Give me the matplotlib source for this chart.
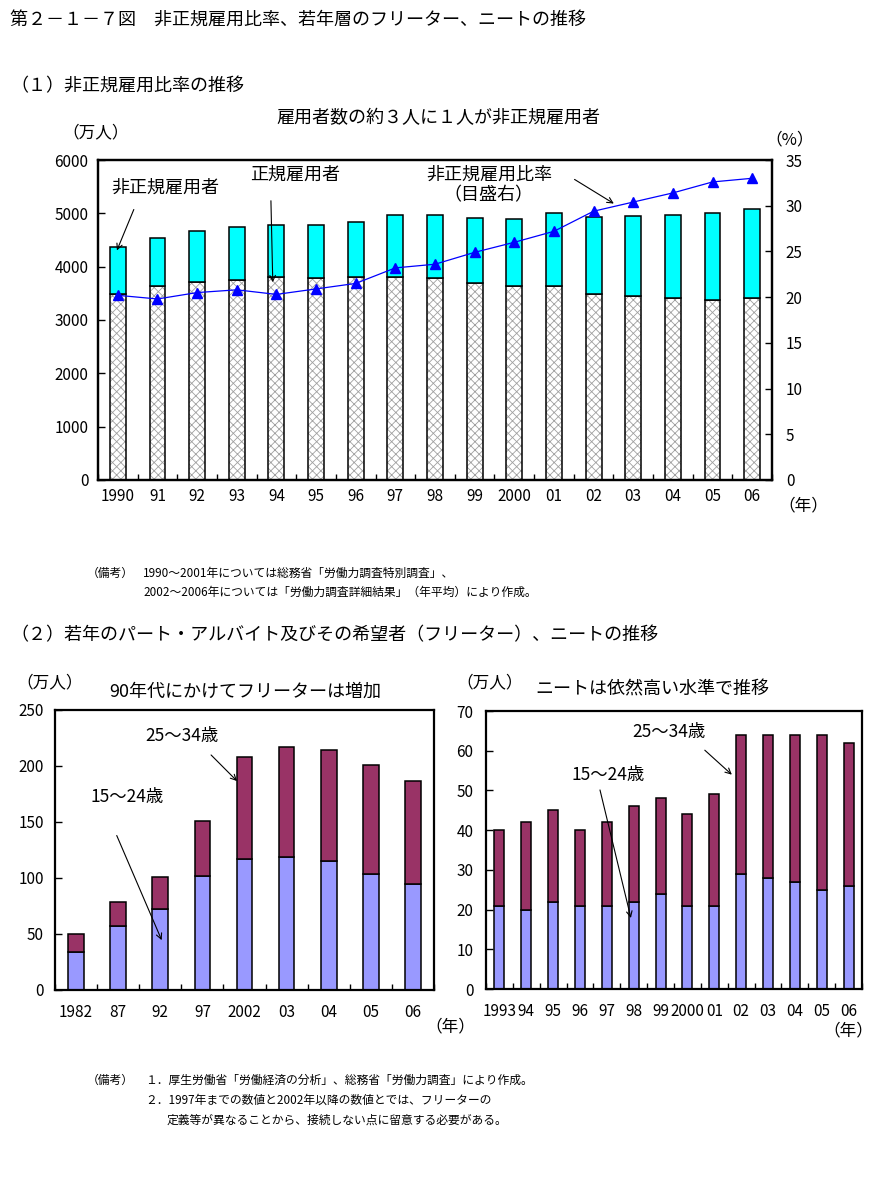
import numpy as np
import matplotlib
matplotlib.use('Agg')
import matplotlib.pyplot as plt

plt.rcParams['font.family'] = ['Noto Sans CJK JP', 'DejaVu Sans']
plt.rcParams['hatch.linewidth'] = 0.6

# (1) 非正規雇用比率
years1 = ['1990', '91', '92', '93', '94', '95', '96', '97', '98', '99',
          '2000', '01', '02', '03', '04', '05', '06']
regular = [3488, 3639, 3705, 3756, 3805, 3779, 3800, 3812, 3794, 3688,
           3630, 3640, 3489, 3444, 3410, 3374, 3411]
non_regular = [881, 897, 958, 986, 971, 1001, 1043, 1152, 1173, 1225,
               1273, 1360, 1451, 1504, 1564, 1633, 1677]
ratio = [20.2, 19.8, 20.5, 20.8, 20.3, 20.9, 21.5, 23.2, 23.6, 24.9,
         26.0, 27.2, 29.4, 30.4, 31.4, 32.6, 33.0]

# (2) フリーター
years2 = ['1982', '87', '92', '97', '2002', '03', '04', '05', '06']
freeter_young = [34, 57, 72, 102, 117, 119, 115, 104, 95]
freeter_old = [16, 22, 29, 49, 91, 98, 99, 97, 92]

# (2) ニート
years3 = ['1993', '94', '95', '96', '97', '98', '99', '2000', '01',
          '02', '03', '04', '05', '06']
neet_young = [21, 20, 22, 21, 21, 22, 24, 21, 21, 29, 28, 27, 25, 26]
neet_old = [19, 22, 23, 19, 21, 24, 24, 23, 28, 35, 36, 37, 39, 36]

W, H = 894, 1180
fig = plt.figure(figsize=(W / 100, H / 100), dpi=100)


def rect(l, t, r, b):
    return [l / W, 1 - b / H, (r - l) / W, (b - t) / H]


def ftext(x, y, s, size=9, ha='left', **kw):
    fig.text(x / W, 1 - y / H, s, fontsize=size, ha=ha, va='center', **kw)


def style_axis(ax, n, labels, xpad, ypad):
    ax.set_xlim(-0.5, n - 0.5)
    ax.set_xticks(np.arange(n))
    ax.set_xticklabels(labels)
    ax.set_xticks(np.arange(-0.5, n), minor=True)
    ax.tick_params(axis='x', which='major', length=0, pad=xpad, labelsize=11)
    ax.tick_params(axis='x', which='minor', direction='in', length=4, width=1)
    ax.tick_params(axis='y', direction='in', length=5, width=1, pad=ypad, labelsize=11)
    for s in ax.spines.values():
        s.set_linewidth(1.6)


def arrow(ax, start, tip):
    ax.annotate('', xy=tip, xytext=start,
                arrowprops=dict(arrowstyle='->', color='black', lw=0.8))


# 見出し
ftext(10, 20, '第２－１－７図　非正規雇用比率、若年層のフリーター、ニートの推移', 13)
ftext(10, 86, '（１）非正規雇用比率の推移', 13)

# ---- (1) ----
ax1 = fig.add_axes(rect(98, 160, 772, 480))
x1 = np.arange(len(years1))
ax1.bar(x1, regular, width=0.4, color='white', edgecolor='#a0a0a0',
        hatch='xxxx', linewidth=0)
ax1.bar(x1, regular, width=0.4, fill=False, edgecolor='black', linewidth=1.1)
ax1.bar(x1, non_regular, bottom=regular, width=0.4, color='#00FFFF',
        edgecolor='black', linewidth=1.1)
ax1.set_ylim(0, 6000)
ax1.set_yticks(range(0, 6001, 1000))
style_axis(ax1, len(years1), years1, 6, 7)

ax1b = ax1.twinx()
ax1b.plot(x1, ratio, color='#0000FF', lw=0.9, marker='^', markersize=7)
ax1b.set_ylim(0, 35)
ax1b.set_yticks(range(0, 36, 5))
ax1b.tick_params(axis='y', direction='in', length=5, width=1, pad=10, labelsize=11)
for s in ax1b.spines.values():
    s.set_linewidth(1.6)

ax1.text(1.19, 5475, '非正規雇用者', fontsize=13, ha='center', va='center')
arrow(ax1, (0.43, 5120), (-0.05, 4256))
ax1.text(4.47, 5719, '正規雇用者', fontsize=13, ha='center', va='center')
arrow(ax1, (3.86, 5288), (3.91, 3656))
ax1.text(9.36, 5719, '非正規雇用比率', fontsize=13, ha='center', va='center')
ax1.text(9.34, 5344, '（目盛右）', fontsize=13, ha='center', va='center')
arrow(ax1, (11.46, 5663), (12.57, 5156))

ftext(438, 118, '雇用者数の約３人に１人が非正規雇用者', 13, ha='center')
ftext(96, 133, '（万人）', 12, ha='center')
ftext(790, 140, '（%）', 12, ha='center')
ftext(803, 506, '（年）', 12, ha='center')

# 備考1
ftext(87, 573, '（備考）', 8.5)
ftext(143, 573, '1990～2001年については総務省「労働力調査特別調査」、', 8.5)
ftext(143, 592, '2002～2006年については「労働力調査詳細結果」（年平均）により作成。', 8.5)

ftext(10, 635, '（２）若年のパート・アルバイト及びその希望者（フリーター）、ニートの推移', 13)

# ---- (2) フリーター ----
ax2 = fig.add_axes(rect(55, 710, 434, 990))
x2 = np.arange(len(years2))
ax2.bar(x2, freeter_young, width=0.37, color='#9999FF', edgecolor='black', linewidth=1.1)
ax2.bar(x2, freeter_old, bottom=freeter_young, width=0.37, color='#993366',
        edgecolor='black', linewidth=1.1)
ax2.set_ylim(0, 250)
ax2.set_yticks(range(0, 251, 50))
style_axis(ax2, len(years2), years2, 10, 8)
ax2.text(2.52, 226.8, '25～34歳', fontsize=12.5, ha='center', va='center')
arrow(ax2, (3.16, 211.6), (3.87, 184.8))
ax2.text(1.21, 172.3, '15～24歳', fontsize=12.5, ha='center', va='center')
arrow(ax2, (0.94, 140.2), (2.06, 42.2))

ftext(245, 692, '90年代にかけてフリーターは増加', 13, ha='center')
ftext(50, 683, '（万人）', 12, ha='center')
ftext(450, 1027, '（年）', 12, ha='center')

# ---- (2) ニート ----
ax3 = fig.add_axes(rect(486, 711, 862, 989))
x3 = np.arange(len(years3))
ax3.bar(x3, neet_young, width=0.37, color='#9999FF', edgecolor='black', linewidth=1.1)
ax3.bar(x3, neet_old, bottom=neet_young, width=0.37, color='#993366',
        edgecolor='black', linewidth=1.1)
ax3.set_ylim(0, 70)
ax3.set_yticks(range(0, 71, 10))
style_axis(ax3, len(years3), years3, 10, 9)
ax3.text(6.31, 64.7, '25～34歳', fontsize=12.5, ha='center', va='center')
arrow(ax3, (7.57, 60.6), (8.73, 53.5))
ax3.text(4.06, 53.9, '15～24歳', fontsize=12.5, ha='center', va='center')
arrow(ax3, (3.72, 50.8), (4.92, 17.2))

ftext(652, 689, 'ニートは依然高い水準で推移', 13, ha='center')
ftext(490, 683, '（万人）', 12, ha='center')
ftext(848, 1031, '（年）', 12, ha='center')

# 備考2
ftext(87, 1080, '（備考）', 8.5)
ftext(145, 1080, '１．厚生労働省「労働経済の分析」、総務省「労働力調査」により作成。', 8.5)
ftext(145, 1100, '２．1997年までの数値と2002年以降の数値とでは、フリーターの', 8.5)
ftext(167, 1120, '定義等が異なることから、接続しない点に留意する必要がある。', 8.5)

fig.savefig('out.png', dpi=100)
